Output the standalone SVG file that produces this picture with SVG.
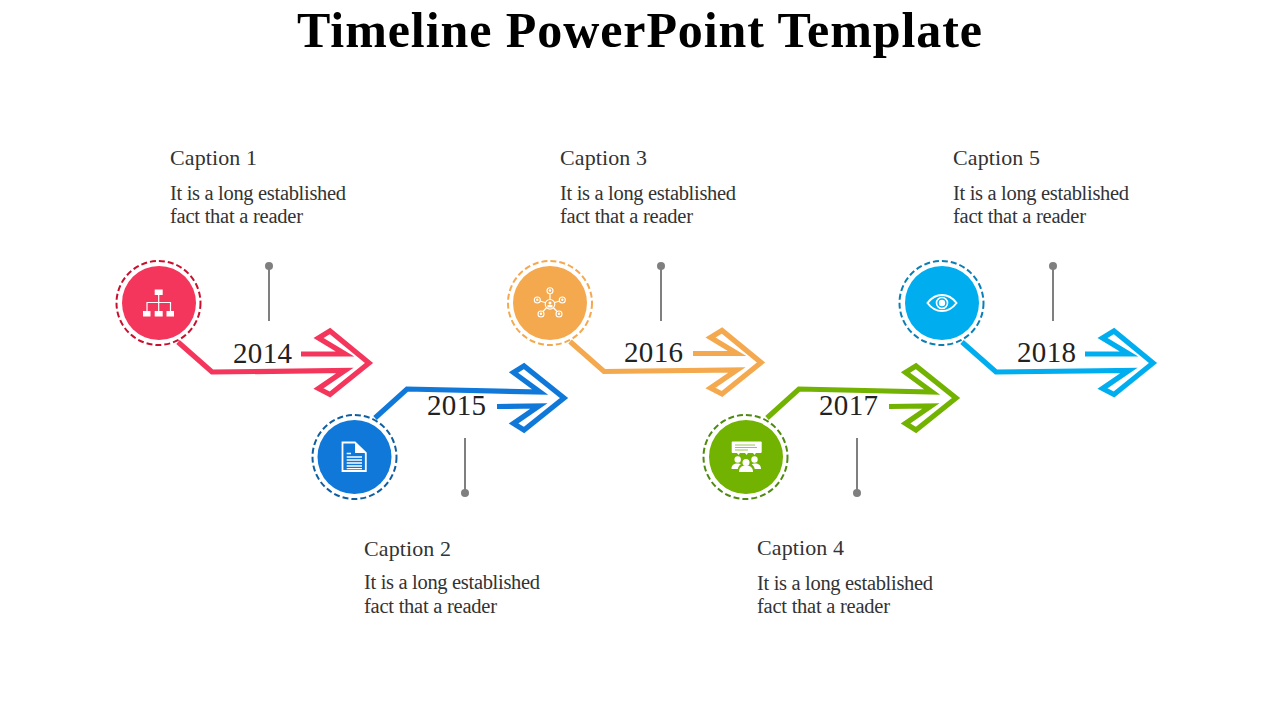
<svg xmlns="http://www.w3.org/2000/svg" width="1280" height="720" viewBox="0 0 1280 720">
<style>
text{font-family:"Liberation Serif","Times New Roman",serif;fill:#333}
.title{font-size:50px;font-weight:bold;fill:#000}
.cap{font-size:22px}
.body{font-size:20.500px}
.year{font-size:29px;fill:#222}
.arrow{fill:none;stroke-width:5.200;stroke-linejoin:miter;stroke-miterlimit:8}
.ring{fill:none;stroke-width:2;stroke-dasharray:6 3}
.pin{stroke:#7f7f7f;stroke-width:2}
.dot{fill:#7f7f7f}
.w{fill:#fff}
.wl{fill:none;stroke:#fff;stroke-width:1.200}
</style>
<defs>
<polyline id="a1" class="arrow" points="178,342 212,372 345,370.500 318.500,388.500 330,394.500 369,363 330,331 318.500,338 345,354 301,354"/>
<polyline id="a2" class="arrow" points="375,418 407,389 540,392 513.500,372.500 524,366 564,398 524,430 513.500,423.500 539,406 497,406.500"/>
</defs>
<text class="title" x="297" y="47" textLength="685">Timeline PowerPoint Template</text>
<g id="connectors">
<use href="#a1" stroke="#f5365c"/>
<use href="#a2" stroke="#0f78d9"/>
<use href="#a1" x="392" y="-0.500" stroke="#f4a94e"/>
<use href="#a2" x="392" stroke="#72b200"/>
<use href="#a1" x="784" stroke="#00aeef"/>
<g>
<line class="pin" x1="269" y1="266" x2="269" y2="321"/><circle class="dot" cx="269" cy="266" r="4"/>
<line class="pin" x1="465" y1="438" x2="465" y2="493"/><circle class="dot" cx="465" cy="493" r="4"/>
<line class="pin" x1="661" y1="266" x2="661" y2="321"/><circle class="dot" cx="661" cy="266" r="4"/>
<line class="pin" x1="857" y1="438" x2="857" y2="493"/><circle class="dot" cx="857" cy="493" r="4"/>
<line class="pin" x1="1053" y1="266" x2="1053" y2="321"/><circle class="dot" cx="1053" cy="266" r="4"/>
</g>
</g>
<g id="node1">
<circle cx="158.500" cy="303" r="42" class="ring" stroke="#c8102e"/>
<circle cx="159" cy="303" r="37" fill="#f5365c"/>
<rect class="w" x="154.700" y="289.500" width="8" height="5.500"/>
<rect class="w" x="143" y="311" width="7.500" height="5.500"/><rect class="w" x="154.700" y="311" width="8" height="5.500"/><rect class="w" x="166.500" y="311" width="7.500" height="5.500"/>
<path class="wl" d="M158.700 295V311M147 311V302.500H170.500V311"/>
<text class="year" x="233" y="363" textLength="59">2014</text>
<text class="cap" x="170" y="165" textLength="87">Caption 1</text>
<text class="body" x="170" y="200" textLength="176">It is a long established</text>
<text class="body" x="170" y="223" textLength="133">fact that a reader</text>
</g>
<g id="node2">
<circle cx="354.500" cy="457" r="42" class="ring" stroke="#0f5fa0"/>
<circle cx="354.500" cy="457" r="37" fill="#0f78d9"/>
<path fill="none" stroke="#fff" stroke-width="1.800" d="M342.500 442.500H355L365.800 453V471H342.500Z"/>
<path class="w" d="M355 442.500L365.800 453H355Z"/>
<path fill="none" stroke="#fff" stroke-width="1.300" d="M346.700 453.500H351M346.700 457H362M346.700 460H362M346.700 463H362M346.700 466H362M346.700 468.700H362"/>
<text class="year" x="427" y="415" textLength="59">2015</text>
<text class="cap" x="364" y="556" textLength="87">Caption 2</text>
<text class="body" x="364" y="589" textLength="176">It is a long established</text>
<text class="body" x="364" y="612.500" textLength="133">fact that a reader</text>
</g>
<g id="node3">
<circle cx="550" cy="303" r="42" class="ring" stroke="#f4a94e"/>
<circle cx="550" cy="303" r="37" fill="#f4a94e"/>
<path class="wl" d="M550 304L550 294M550 304L540 301M550 304L559.500 301M550 304L543 311.500M550 304L557 311.500"/>
<g fill="#f4a94e" stroke="#fff" stroke-width="1.100">
<circle cx="550" cy="304.300" r="4.800"/><circle cx="550" cy="290.700" r="3"/><circle cx="537.300" cy="300" r="3"/><circle cx="562.300" cy="300" r="3"/><circle cx="541" cy="314" r="3"/><circle cx="559" cy="314" r="3"/>
</g>
<g class="w"><circle cx="550" cy="303" r="1.500"/><rect x="547.500" y="305" width="5" height="2.500"/><circle cx="550" cy="290.500" r="1.200"/><circle cx="537.300" cy="299.800" r="1.200"/><circle cx="562.300" cy="299.800" r="1.200"/><circle cx="541" cy="313.800" r="1.200"/><circle cx="559" cy="313.800" r="1.200"/></g>
<text class="year" x="624" y="362" textLength="59">2016</text>
<text class="cap" x="560" y="165" textLength="87">Caption 3</text>
<text class="body" x="560" y="200" textLength="176">It is a long established</text>
<text class="body" x="560" y="223" textLength="133">fact that a reader</text>
</g>
<g id="node4">
<circle cx="745.500" cy="457" r="42" class="ring" stroke="#4e8a10"/>
<circle cx="746" cy="457" r="37" fill="#72b200"/>
<rect class="w" x="731.700" y="441.500" width="30" height="11.500" rx="1"/>
<path class="w" d="M737 453h3l-1.500 2zM745 453h3l-1.500 2zM753 453h3l-1.500 2z"/>
<path fill="none" stroke="#72b200" stroke-width="1" opacity=".7" d="M735 445H755M735 447.500H757M735 450H748"/>
<g class="w">
<circle cx="737.700" cy="459.500" r="3.200"/><circle cx="754.500" cy="459.500" r="3.200"/><circle cx="746" cy="462.500" r="3.500"/>
<path d="M731.500 469c0-4 2.500-5.500 6-5.500 1.500 0 2.500.3 3.300 1-1.700 1-2.800 2.600-3 4.500zM761 469c0-4-2.500-5.500-6-5.500-1.500 0-2.500.3-3.300 1 1.700 1 2.800 2.600 3 4.500z"/>
<path d="M739 472c0-4.500 2.800-6.500 7-6.500s7 2 7 6.500z"/>
</g>
<text class="year" x="819" y="415" textLength="59">2017</text>
<text class="cap" x="757" y="555" textLength="87">Caption 4</text>
<text class="body" x="757" y="590" textLength="176">It is a long established</text>
<text class="body" x="757" y="613" textLength="133">fact that a reader</text>
</g>
<g id="node5">
<circle cx="941.500" cy="303" r="42" class="ring" stroke="#0a7fb5"/>
<circle cx="942" cy="303" r="37" fill="#00aeef"/>
<path fill="none" stroke="#fff" stroke-width="2" d="M927.500 303C932 297 937 295 942 295S952 297 956.500 303C952 309 947 311 942 311S932 309 927.500 303Z"/>
<circle cx="942" cy="303" r="5.500" fill="none" stroke="#fff" stroke-width="1.600"/>
<circle cx="942" cy="303" r="3.200" class="w"/>
<text class="year" x="1017" y="362" textLength="59">2018</text>
<text class="cap" x="953" y="165" textLength="87">Caption 5</text>
<text class="body" x="953" y="200" textLength="176">It is a long established</text>
<text class="body" x="953" y="223" textLength="133">fact that a reader</text>
</g>
</svg>
